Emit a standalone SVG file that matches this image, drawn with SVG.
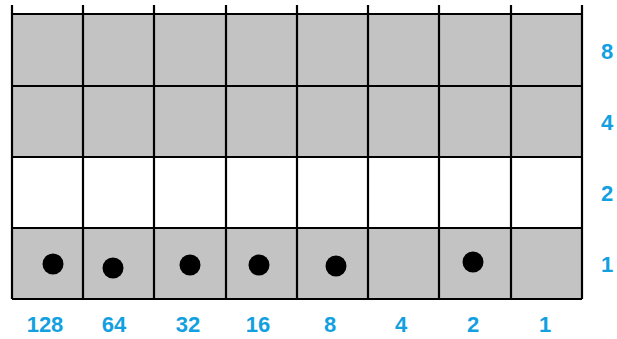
<svg xmlns="http://www.w3.org/2000/svg" width="617" height="339" viewBox="0 0 617 339">
<style>
.g{fill:#c3c3c3}
.w{fill:#ffffff}
.ln{stroke:#000;stroke-width:2.2;fill:none}
.dot{fill:#000}
.lbl{font-family:"Liberation Sans",Arial,sans-serif;font-weight:bold;font-size:22px;fill:#12a0e0;text-anchor:middle}
</style>
<rect width="617" height="339" fill="#fff"/>
<g id="fills">
<rect class="g" x="12" y="14" width="570" height="143"/>
<rect class="w" x="12" y="157" width="570" height="71"/>
<rect class="g" x="12" y="228" width="570" height="71"/>
</g>
<g id="grid" class="ln">
<path d="M12 5V299M83 5V299M154 5V299M226 5V299M297 5V299M368 5V299M439 5V299M511 5V299M582 5V299"/>
<path d="M12 14H582M12 86H582M12 157H582M12 228H582M12 299H582"/>
</g>
<g id="dots">
<circle class="dot" cx="53" cy="264" r="10.5"/>
<circle class="dot" cx="113" cy="268" r="10.5"/>
<circle class="dot" cx="190" cy="265" r="10.5"/>
<circle class="dot" cx="259" cy="265" r="10.5"/>
<circle class="dot" cx="336" cy="266" r="10.5"/>
<circle class="dot" cx="473" cy="262" r="10.5"/>
</g>
<g id="bottom-labels">
<text class="lbl" x="45" y="332">128</text>
<text class="lbl" x="114" y="332">64</text>
<text class="lbl" x="188" y="332">32</text>
<text class="lbl" x="258" y="332">16</text>
<text class="lbl" x="330" y="332">8</text>
<text class="lbl" x="401" y="332">4</text>
<text class="lbl" x="473" y="332">2</text>
<text class="lbl" x="545" y="332">1</text>
</g>
<g id="right-labels">
<text class="lbl" x="607" y="59">8</text>
<text class="lbl" x="607" y="130">4</text>
<text class="lbl" x="607" y="201">2</text>
<text class="lbl" x="607" y="272">1</text>
</g>
</svg>
